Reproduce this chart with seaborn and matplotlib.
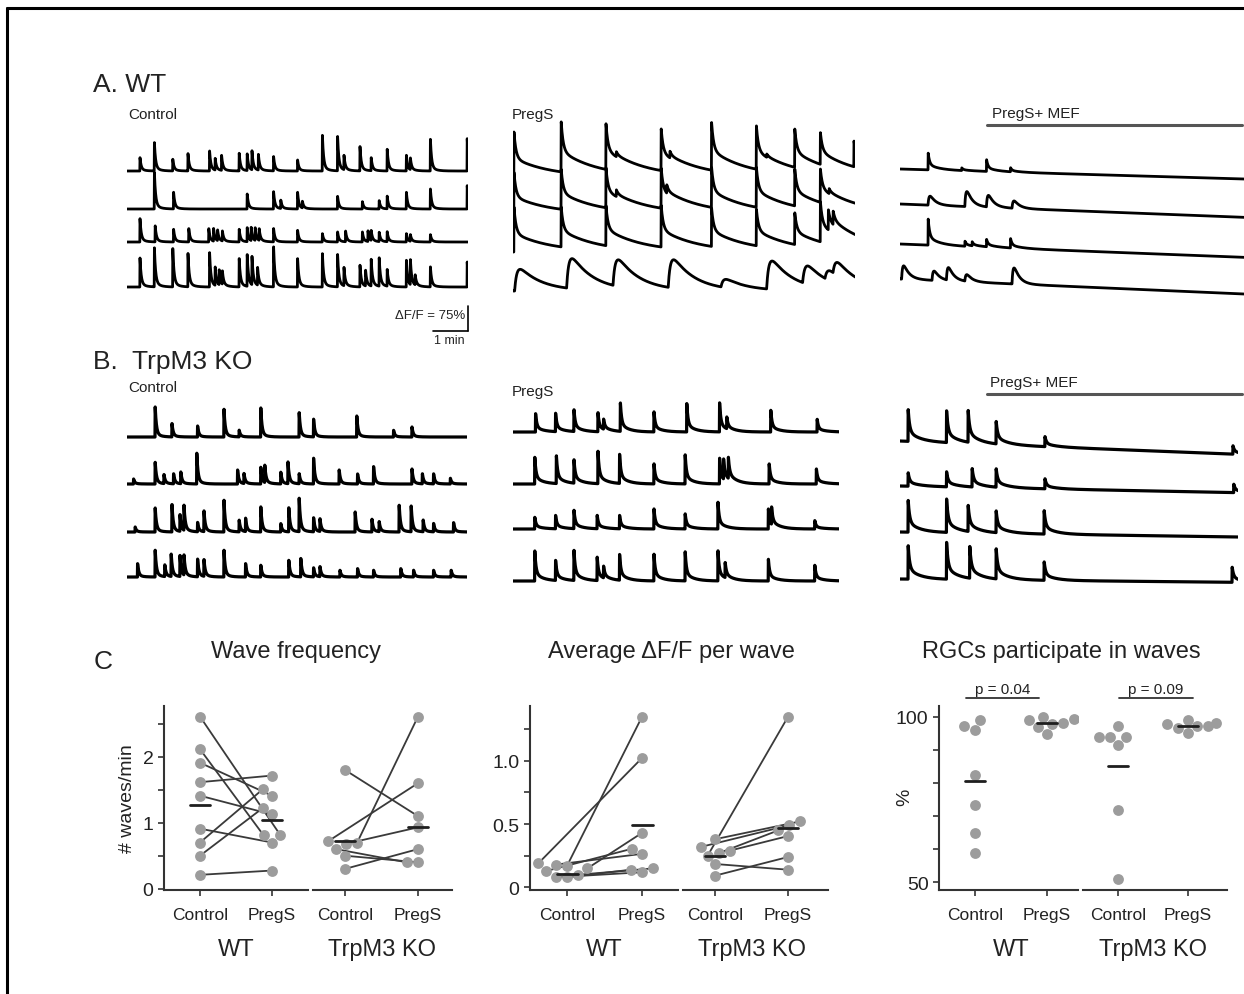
import numpy as np
import pandas as pd
import matplotlib.pyplot as plt
import seaborn as sns
from matplotlib.lines import Line2D

W, H = 1244, 995

# -------------------------
# Calcium traces: (frame, dF/F %) events
# 44 frames = 1 min on the scale bar
# -------------------------
FRAMES_PER_MIN = 44
block_durations = [426, 428, 430, 425, 408, 423]   # frames per recording

wt_control = [
    [(16, 40), (34, 85), (57, 35), (76, 52), (103, 60), (110, 35), (118, 45), (140, 53), (150, 50),
     (156, 57), (164, 47), (183, 43), (213, 33), (244, 107), (263, 103), (271, 43), (291, 73),
     (305, 39), (325, 65), (349, 47), (354, 35), (379, 95), (425, 97)],
    [(34, 110), (58, 50), (150, 45), (183, 52), (192, 25), (213, 50), (219, 20), (263, 38), (294, 22),
     (315, 25), (325, 38), (349, 50), (379, 60), (425, 70)],
    [(16, 70), (35, 48), (58, 38), (77, 40), (102, 40), (108, 38), (113, 32), (119, 30), (140, 38),
     (150, 42), (155, 40), (160, 38), (165, 35), (183, 40), (213, 35), (244, 25), (263, 30), (273, 32),
     (294, 30), (301, 32), (305, 30), (315, 28), (325, 30), (349, 25), (354, 20), (379, 22)],
    [(16, 87), (34, 117), (57, 115), (76, 100), (103, 103), (110, 55), (115, 45), (119, 40), (140, 85),
     (150, 95), (156, 85), (163, 53), (183, 120), (213, 85), (244, 100), (263, 97), (271, 55), (291, 65),
     (298, 47), (305, 80), (315, 85), (325, 50), (349, 80), (354, 75), (360, 30), (379, 60), (425, 75)],
]
wt_pregs = [
    [(1, 135), (60, 150), (116, 137), (129, 15), (185, 125), (196, 20), (248, 143), (304, 130),
     (317, 10), (352, 115), (384, 95), (426, 77)],
    [(1, 125), (60, 120), (116, 120), (129, 20), (185, 120), (192, 25), (248, 120), (304, 120),
     (352, 110), (384, 100), (395, 15)],
    [(1, 135), (60, 120), (116, 120), (185, 125), (248, 115), (304, 110), (352, 95), (384, 120),
     (394, 60), (400, 40)],
    [(2, 65), (67, 90), (125, 80), (194, 85), (260, 25), (317, 85), (362, 55), (390, 30), (400, 40)],
]
wt_mef = [
    [(35, 50), (77, 8), (108, 35), (138, 12)],
    [(35, 27), (81, 45), (108, 35), (140, 22)],
    [(35, 78), (81, 15), (90, 12), (108, 22), (138, 28)],
    [(2, 40), (40, 28), (58, 38), (81, 20), (140, 48)],
]
wt_mef_drift = [30, 40, 40, 45]

ko_control = [
    [(35, 90), (56, 40), (88, 33), (121, 83), (140, 20), (167, 87), (215, 73), (233, 53), (287, 63),
     (333, 20), (356, 30)],
    [(8, 15), (35, 65), (46, 27), (58, 30), (67, 35), (87, 92), (138, 42), (146, 30), (167, 50),
     (172, 52), (192, 35), (201, 65), (215, 30), (233, 77), (265, 42), (288, 30), (308, 52), (356, 45),
     (369, 30), (383, 30), (404, 17)],
    [(10, 15), (35, 72), (56, 82), (66, 50), (71, 75), (88, 28), (96, 62), (121, 95), (140, 35),
     (148, 40), (167, 75), (192, 25), (202, 72), (215, 100), (233, 42), (241, 38), (285, 60), (306, 38),
     (315, 30), (340, 80), (355, 77), (370, 35), (383, 25), (408, 28)],
    [(13, 40), (35, 80), (47, 35), (55, 67), (66, 63), (71, 60), (88, 53), (96, 50), (121, 80),
     (148, 40), (167, 35), (202, 50), (217, 55), (233, 27), (241, 30), (266, 20), (288, 25), (308, 20),
     (342, 25), (358, 20), (383, 20), (405, 20)],
]
ko_pregs = [
    [(28, 55), (53, 55), (76, 65), (106, 57), (113, 30), (134, 85), (176, 60), (217, 85), (258, 87),
     (267, 35), (322, 65), (380, 38)],
    [(27, 80), (54, 83), (76, 70), (106, 97), (133, 87), (176, 60), (215, 87), (258, 77), (263, 60),
     (269, 63), (320, 60), (379, 45)],
    [(27, 35), (53, 40), (76, 55), (105, 40), (133, 40), (176, 60), (215, 45), (256, 80), (319, 60),
     (323, 52), (377, 25)],
    [(27, 90), (53, 60), (76, 90), (105, 70), (113, 35), (133, 77), (176, 80), (215, 87), (256, 90),
     (265, 45), (319, 65), (377, 47)],
]
ko_mef = [
    [(10, 95), (58, 95), (85, 95), (120, 67), (181, 30), (416, 25)],
    [(10, 40), (58, 45), (90, 55), (120, 55), (181, 30), (417, 25)],
    [(10, 95), (58, 100), (85, 78), (120, 65), (180, 70)],
    [(10, 100), (58, 110), (87, 95), (120, 90), (180, 55), (415, 45)],
]
ko_mef_drift = [40, 20, 15, 10]

# -------------------------
# Panel C values
# -------------------------
freq_wt_control = [2.61, 2.115, 1.91, 1.615, 1.41, 0.91, 0.70, 0.50, 0.21]
freq_wt_pregs = [0.81, 0.81, 1.41, 1.715, 1.125, 0.70, 1.51, 1.225, 0.275]
freq_ko_control = [1.80, 0.70, 0.72, 0.68, 0.60, 0.50, 0.30]
freq_ko_pregs = [1.10, 2.61, 1.60, 0.93, 0.40, 0.40, 0.60]
freq_means = [[1.275, 1.04], [0.72, 0.94]]

amp_wt_control = [0.17, 0.19, 0.15, 0.13, 0.18, 0.10, 0.08, 0.08]
amp_wt_pregs = [1.345, 1.02, 0.43, 0.305, 0.265, 0.15, 0.14, 0.12]
amp_ko_control = [0.25, 0.32, 0.38, 0.27, 0.29, 0.185, 0.093]
amp_ko_pregs = [1.345, 0.49, 0.52, 0.45, 0.405, 0.14, 0.24]
amp_means = [[0.11, 0.49], [0.245, 0.47]]

rgc_wt_control = [99.0, 97.2, 96.0, 82.3, 73.2, 64.9, 58.7]
rgc_wt_pregs = [99.4, 99.0, 98.2, 97.9, 100.0, 96.9, 94.9]
rgc_ko_control = [97.2, 94.0, 94.0, 94.0, 91.6, 71.7, 51.0]
rgc_ko_pregs = [99.0, 98.2, 96.5, 98.0, 95.2, 97.2, 97.2]
rgc_means = [[80.5, 98.2], [85.1, 97.2]]
p_values = ["p = 0.04", "p = 0.09"]

cond_order = ["Control", "PregS"]
genotypes = ["WT", "TrpM3 KO"]

# -------------------------
# Style
# -------------------------
sns.set_style("ticks")
plt.rcParams["font.family"] = ["Liberation Sans", "DejaVu Sans"]
TXT = "#222222"
PT = "#9c9c9c"
LN = "#3a3a3a"
PX_PER_FRAME = 0.8

# kernel shapes: rise, fast tau, slow tau, slow fraction (frames)
KERNELS = {
    "spike": (0.25, 1.5, 6.0, 0.12),
    "wt_pregs": (0.25, 2.5, 45.0, 0.4),
    "wave": (3.0, 28.0, 28.0, 0.0),
    "ko_pregs": (0.25, 1.5, 10.0, 0.25),
    "mef": (0.25, 1.8, 14.0, 0.3),
    "mef_slow": (1.5, 7.0, 7.0, 0.0),
}

fig = plt.figure(figsize=(W / 100, H / 100), dpi=100)


def rect(l, t, r, b):
    return [l / W, 1 - b / H, (r - l) / W, (b - t) / H]


def kern(s, rise, tf, ts, frac):
    decay = (1 - frac) * np.exp(-s / tf) + frac * np.exp(-s / ts)
    if rise > 1:
        return (1 - np.exp(-s / rise)) * decay
    return np.minimum(s / rise, 1.0) * decay


def build_trace(events, duration, kname, drift=0.0):
    rise, tf, ts, frac = KERNELS[kname]
    t = np.arange(0, duration + 0.25, 0.25)
    kmax = kern(np.arange(0.05, 60, 0.05), rise, tf, ts, frac).max()
    y = np.zeros_like(t)
    for te, a in events:
        s = t - te
        m = s > 0
        y[m] += a * kern(s[m], rise, tf, ts, frac) / kmax
    y -= drift * t / duration
    return t, y


# blocks: left px, top px, bottom px, events, baselines (px), kernels, drift, line width
blocks = [
    (127, 95, 345, wt_control, [172, 210, 243, 288], ["spike"] * 4, [0] * 4, 2.0),
    (513, 95, 345, wt_pregs, [178, 215, 253, 292], ["wt_pregs"] * 3 + ["wave"], [0] * 4, 2.0),
    (900, 95, 345, wt_mef, [170, 205, 245, 280], ["mef", "mef_slow", "mef", "mef_slow"], wt_mef_drift, 2.0),
    (127, 400, 610, ko_control, [438, 485, 533, 578], ["spike"] * 4, [0] * 4, 2.3),
    (513, 400, 610, ko_pregs, [433, 485, 530, 582], ["ko_pregs"] * 4, [0] * 4, 2.3),
    (900, 400, 610, ko_mef, [442, 487, 533, 580], ["mef"] * 4, ko_mef_drift, 2.3),
]

trace_axes = []
for (left, top, bottom, events, bases, kernels, drifts, lw), dur in zip(blocks, block_durations):
    right = left + dur * PX_PER_FRAME
    ax = fig.add_axes(rect(left, top, right, bottom))
    for ev, base, kn, dr in zip(events, bases, kernels, drifts):
        t, y = build_trace(ev, dur, kn, dr)
        sns.lineplot(x=t, y=y - 3 * base, ax=ax, color="black", linewidth=lw,
                     estimator=None, errorbar=None, sort=False)
    ax.set_xlim(0, dur)
    ax.set_ylim(-3 * bottom, -3 * top)
    ax.set_axis_off()
    trace_axes.append(ax)

# scale bar (75 % / 1 min) on WT control block
sb = trace_axes[0]
sb_x = block_durations[0]
sb_y = -3 * 332
sb.plot([sb_x, sb_x], [sb_y, sb_y + 75], color="black", lw=1.2, clip_on=False)
sb.plot([sb_x - FRAMES_PER_MIN, sb_x], [sb_y, sb_y], color="black", lw=1.2, clip_on=False)
fig.text(465 / W, 1 - 316 / H, "ΔF/F = 75%", fontsize=9.5, color=TXT, ha="right", va="center")
fig.text(449 / W, 1 - 341 / H, "1 min", fontsize=9, color=TXT, ha="center", va="center")

# panel labels and condition labels
fig.text(93 / W, 1 - 85 / H, "A. WT", fontsize=19, color=TXT, va="center")
fig.text(93 / W, 1 - 362 / H, "B.  TrpM3 KO", fontsize=19, color=TXT, va="center")
for x, y, s in [(128, 115, "Control"), (512, 115, "PregS"), (992, 114, "PregS+ MEF"),
                (128, 388, "Control"), (512, 392, "PregS"), (990, 383, "PregS+ MEF")]:
    fig.text(x / W, 1 - y / H, s, fontsize=11, color=TXT, va="center")
for y in [126, 395]:
    fig.add_artist(Line2D([987 / W, 1242 / W], [1 - y / H] * 2, color="#555555", lw=2.2,
                          transform=fig.transFigure))

# -------------------------
# Panel C
# -------------------------
TOP, BOT = 707, 891
panels = [
    dict(title="Wave frequency", tx=296,
         data=[(freq_wt_control, freq_wt_pregs), (freq_ko_control, freq_ko_pregs)],
         means=freq_means, paired=True, ylim=(-0.02, 2.77),
         yt=[0, 1, 2], ytl=["0", "1", "2"], ymin=[0.5, 1.5, 2.5],
         axes=[(164, 308, 200, 272), (313, 452, 345, 418)]),
    dict(title="Average ΔF/F per wave", tx=671,
         data=[(amp_wt_control, amp_wt_pregs), (amp_ko_control, amp_ko_pregs)],
         means=amp_means, paired=True, ylim=(-0.02, 1.43),
         yt=[0, 0.5, 1.0], ytl=["0", "0.5", "1.0"], ymin=[0.25, 0.75, 1.25],
         axes=[(530, 678, 567, 642), (683, 828, 715, 788)]),
    dict(title="RGCs participate in waves", tx=1061,
         data=[(rgc_wt_control, rgc_wt_pregs), (rgc_ko_control, rgc_ko_pregs)],
         means=rgc_means, paired=False, ylim=(47.6, 103.3),
         yt=[50, 100], ytl=["50", "100"], ymin=[60, 70, 80, 90],
         axes=[(939, 1078, 975, 1047), (1083, 1227, 1118, 1188)]),
]

pending = []
for p in panels:
    fig.text(p["tx"] / W, 1 - 652 / H, p["title"], fontsize=17, color=TXT, ha="center", va="center")
    for k, ((l, r, xc, xp), (ctrl, preg), mean, geno) in enumerate(
            zip(p["axes"], p["data"], p["means"], genotypes)):
        ax = fig.add_axes(rect(l, TOP, r, BOT))
        df = pd.DataFrame({"cond": ["Control"] * len(ctrl) + ["PregS"] * len(preg),
                           "val": list(ctrl) + list(preg)})
        sns.swarmplot(data=df, x="cond", y="val", order=cond_order, color=PT, size=7.8,
                      ax=ax, zorder=3)
        pts = ax.collections[:2]
        unit = xp - xc
        ax.set_xlim((l - xc) / unit, (r - xc) / unit)
        ax.set_ylim(p["ylim"])
        ax.set_xlabel("")
        ax.set_ylabel("")
        for i, m in enumerate(mean):
            ax.plot([i - 0.14, i + 0.14], [m, m], color="#1e1e1e", lw=2.0, zorder=4)
        sns.despine(ax=ax, left=(k == 1))
        for sp in ax.spines.values():
            sp.set_linewidth(1.5)
            sp.set_color("#333333")
        ax.tick_params(axis="x", length=4, width=1.2, color="#333333", labelsize=12.5,
                       labelcolor=TXT, pad=8)
        if k == 0:
            ax.set_yticks(p["yt"])
            ax.set_yticklabels(p["ytl"])
            ax.set_yticks(p["ymin"], minor=True)
            ax.tick_params(axis="y", which="both", length=4, width=1.2, color="#333333",
                           labelsize=14, labelcolor=TXT)
        else:
            ax.set_yticks([])
            ax.tick_params(axis="y", which="both", left=False, labelleft=False)
        fig.text((xc + xp) / 2 / W, 1 - 950 / H, geno, fontsize=17, color=TXT,
                 ha="center", va="center")
        if p["paired"]:
            pending.append((ax, pts, ctrl, preg))

fig.text(103 / W, 1 - 662 / H, "C", fontsize=19, color=TXT, ha="center", va="center")
fig.text(127 / W, 1 - 799 / H, "# waves/min", fontsize=14, color=TXT, rotation=90,
         ha="center", va="center")
fig.text(905 / W, 1 - 797 / H, "%", fontsize=14, color=TXT, rotation=90, ha="center", va="center")

# p-value brackets
for (x0, x1), s in zip([(966, 1039), (1119, 1193)], p_values):
    fig.add_artist(Line2D([x0 / W, x1 / W], [1 - 699 / H] * 2, color="#333333", lw=1.3,
                          transform=fig.transFigure))
    fig.text((x0 + x1) / 2 / W, 1 - 697 / H, s, fontsize=11, color=TXT, ha="center", va="bottom")

# paired lines follow the swarm positions
fig.canvas.draw()
for ax, pts, ctrl, preg in pending:
    xy_c = pts[0].get_offsets()
    xy_p = pts[1].get_offsets()
    for j in range(len(ctrl)):
        ax.plot([xy_c[j, 0], xy_p[j, 0]], [xy_c[j, 1], xy_p[j, 1]], color=LN, lw=1.3, zorder=2)

# figure frame
fig.add_artist(Line2D([7 / W, 1], [1 - 9 / H] * 2, color="black", lw=2.2, transform=fig.transFigure))
fig.add_artist(Line2D([7 / W] * 2, [1 - 9 / H, 0], color="black", lw=2.2, transform=fig.transFigure))

fig.savefig("out.png", dpi=100, facecolor="white")
